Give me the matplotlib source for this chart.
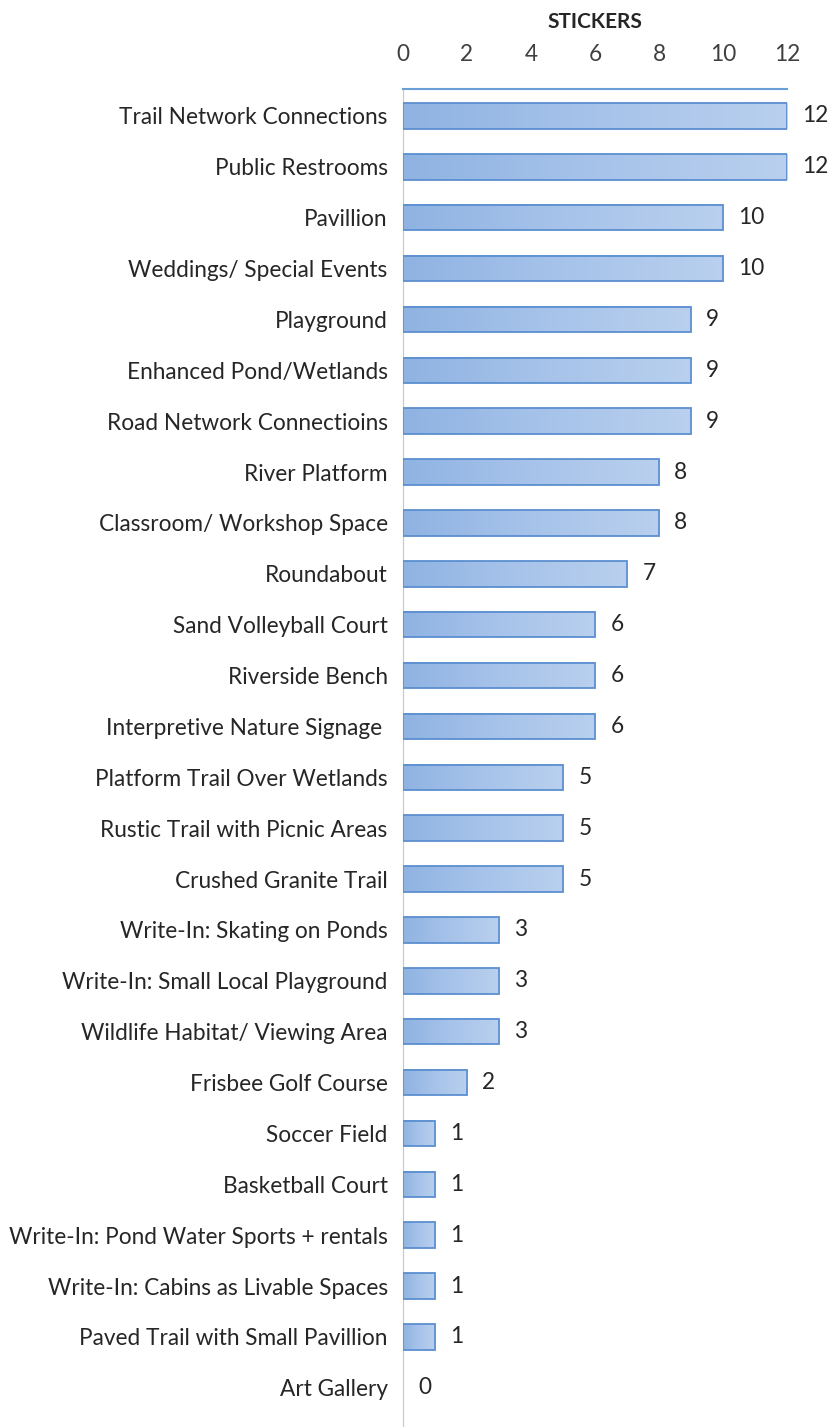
import numpy as np
import matplotlib.pyplot as plt
from matplotlib.colors import LinearSegmentedColormap

categories = [
    "Trail Network Connections", "Public Restrooms", "Pavillion",
    "Weddings/ Special Events", "Playground", "Enhanced Pond/Wetlands",
    "Road Network Connectioins", "River Platform", "Classroom/ Workshop Space",
    "Roundabout", "Sand Volleyball Court", "Riverside Bench",
    "Interpretive Nature Signage ", "Platform Trail Over Wetlands",
    "Rustic Trail with Picnic Areas", "Crushed Granite Trail",
    "Write-In: Skating on Ponds", "Write-In: Small Local Playground",
    "Wildlife Habitat/ Viewing Area", "Frisbee Golf Course", "Soccer Field",
    "Basketball Court", "Write-In: Pond Water Sports + rentals",
    "Write-In: Cabins as Livable Spaces", "Paved Trail with Small Pavillion",
    "Art Gallery",
]
stickers = [12, 12, 10, 10, 9, 9, 9, 8, 8, 7, 6, 6, 6, 5, 5, 5, 3, 3, 3, 2,
            1, 1, 1, 1, 1, 0]
xticks = [0, 2, 4, 6, 8, 10, 12]

plt.rcParams['font.family'] = ['Lato', 'DejaVu Sans']

fig = plt.figure(figsize=(8.33, 14.27), dpi=100)
ax = fig.add_axes([403 / 833, 0, 384 / 833, 1 - 89 / 1427])

# excel-style gradient fill, darker on the left
grad = LinearSegmentedColormap.from_list("bar", ["#8fb3e2", "#a7c3ea", "#b9d0ee"])
g = np.linspace(0, 1, 256).reshape(1, -1)
h = 0.5
y = np.arange(len(categories))
for i, v in enumerate(stickers):
    if v > 0:
        ax.imshow(g, cmap=grad, aspect="auto", interpolation="bicubic",
                  extent=(0, v, i + h / 2, i - h / 2), zorder=2)
        ax.barh(i, v, height=h, facecolor="none", edgecolor="#5b8fd0",
                linewidth=1.3, zorder=3)

for i, v in enumerate(stickers):
    ax.annotate(str(v), (v, i), xytext=(11, 0), textcoords="offset points",
                ha="left", va="center", fontsize=16.3, color="#262626")

ax.set_xlim(0, 12)
ax.set_ylim(25.77, -0.53)
ax.set_yticks(y)
ax.set_yticklabels(categories, fontsize=16.3, color="#262626")
ax.xaxis.tick_top()
ax.xaxis.set_label_position("top")
ax.set_xticks(xticks)
ax.set_xticklabels([str(t) for t in xticks], fontsize=16.3, color="#404040")
ax.set_xlabel("STICKERS", fontsize=15, fontweight="bold", color="#262626",
              labelpad=12)
ax.tick_params(axis="x", length=0, pad=17)
ax.tick_params(axis="y", length=0, pad=11)

for s in ["right", "bottom"]:
    ax.spines[s].set_visible(False)
ax.spines["left"].set_color("#c8c8c8")
ax.spines["top"].set_color("#6b9fd8")
ax.spines["top"].set_linewidth(1.5)

fig.savefig("out.png", dpi=100)
